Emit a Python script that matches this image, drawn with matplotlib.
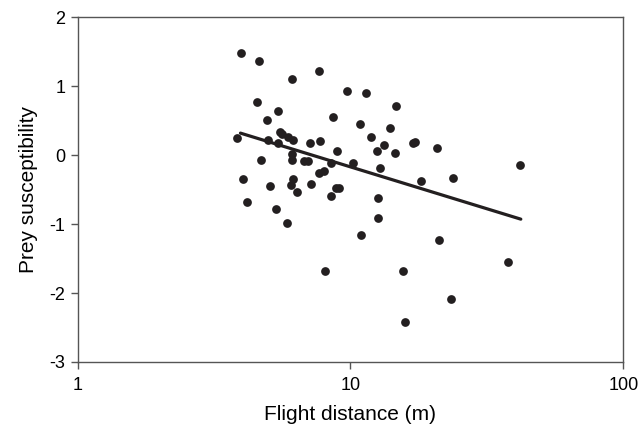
import numpy as np
import matplotlib.pyplot as plt

plt.rcParams['font.family'] = ['Liberation Sans', 'DejaVu Sans']

# flight distance (m) and prey susceptibility
flight_dist = [3.98, 4.61, 6.10, 7.65, 9.73, 11.43, 14.7, 4.55, 5.41, 4.93,
               8.60, 10.82, 13.96, 11.91, 5.50, 5.61, 5.91, 6.14, 5.00, 5.44,
               3.83, 7.11, 7.76, 13.3, 17.0, 17.3, 20.8, 12.55, 14.6, 8.93,
               6.12, 6.10, 4.71, 6.73, 6.99, 8.48, 10.2, 12.8, 41.9, 7.65,
               8.0, 4.02, 6.18, 6.03, 5.08, 7.14, 6.37, 8.84, 9.08, 18.2,
               23.8, 4.18, 5.31, 8.5, 12.6, 5.83, 12.6, 10.97, 21.1, 8.05,
               15.6, 37.9, 23.3, 15.85]
susceptibility = [1.487, 1.36, 1.105, 1.22, 0.935, 0.896, 0.717, 0.77, 0.64, 0.51,
                  0.548, 0.446, 0.393, 0.267, 0.33, 0.306, 0.267, 0.219, 0.219, 0.18,
                  0.248, 0.17, 0.209, 0.151, 0.17, 0.195, 0.097, 0.058, 0.034, 0.058,
                  0.015, -0.063, -0.077, -0.087, -0.082, -0.116, -0.111, -0.193, -0.14, -0.265,
                  -0.231, -0.343, -0.343, -0.435, -0.44, -0.42, -0.531, -0.473, -0.473, -0.377,
                  -0.328, -0.68, -0.778, -0.594, -0.619, -0.991, -0.904, -1.161, -1.233, -1.679,
                  -1.679, -1.548, -2.08, -2.419]

# regression line end points
fit_x = [3.95, 42.1]
fit_y = [0.32, -0.928]

fig = plt.figure(figsize=(6.39, 4.28), dpi=100)
ax = fig.add_axes([77.7 / 639, 1 - 362 / 428, (623.3 - 77.7) / 639, (362 - 17.3) / 428])

ax.plot(flight_dist, susceptibility, 'o', color='#231f20', ms=6.3, mec='none', zorder=3)
ax.plot(fit_x, fit_y, '-', color='#231f20', lw=2.3, solid_capstyle='round', zorder=2)

ax.set_xscale('log')
ax.set_xlim(1, 100)
ax.set_ylim(-3, 2)
ax.set_xticks([1, 10, 100])
ax.set_xticklabels(['1', '10', '100'])
ax.minorticks_off()
ax.set_yticks([-3, -2, -1, 0, 1, 2])
ax.set_yticklabels(['-3', '-2', '-1', '0', '1', '2'])

for s in ax.spines.values():
    s.set_color('#555555')
    s.set_linewidth(1.0)
ax.tick_params(axis='both', direction='out', length=5, width=1, color='#555555',
               labelsize=13, pad=4)
ax.tick_params(axis='x', pad=6)

ax.set_xlabel('Flight distance (m)', fontsize=15, labelpad=8)
ax.set_ylabel('Prey susceptibility', fontsize=15, labelpad=8)

fig.savefig('out.png', dpi=100)
